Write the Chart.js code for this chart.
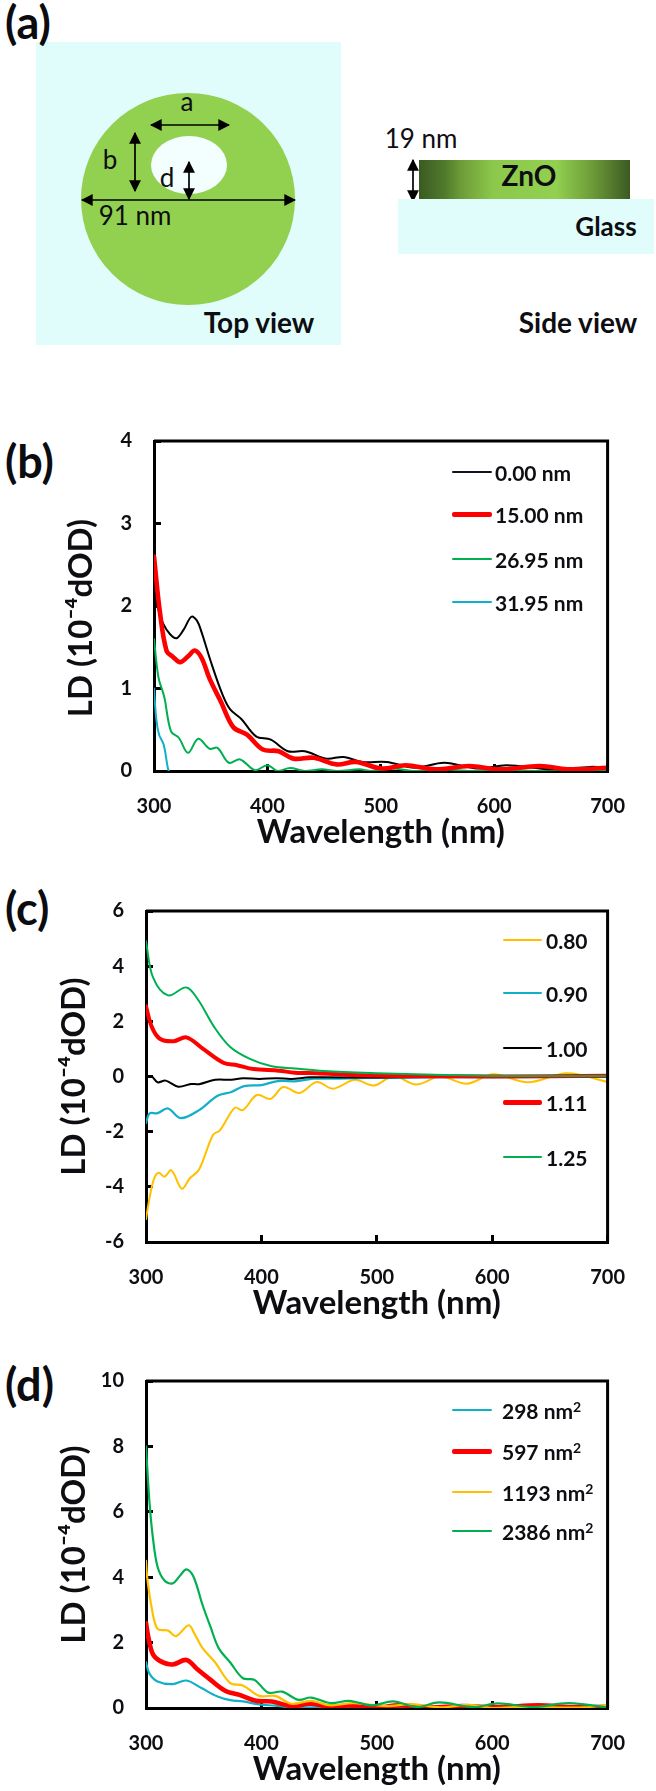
<!DOCTYPE html>
<html>
<head>
<meta charset="utf-8">
<script src="https://cdn.jsdelivr.net/npm/chart.js@4"></script>
<style>
html,body{margin:0;padding:0;background:#fff;width:656px;height:1791px;overflow:hidden;font-family:Lato,sans-serif;color:#0d0d12}
canvas{position:absolute;left:0}
svg{position:absolute;left:0;top:0}
.plabel{position:absolute;left:5px;font:700 45px/1 Lato,sans-serif;color:#0c0c10}
.leg{position:absolute;white-space:nowrap;font:700 21px/1 Lato,sans-serif;transform:translateY(-50%)}
.leg sup{font-size:14px;line-height:0;vertical-align:7px}
.swatch{position:absolute;border-radius:2px}
</style>
</head>
<body>
<svg width="656" height="345" viewBox="0 0 656 345" font-family="Lato,sans-serif" fill="#0d0d12">
  <defs>
    <linearGradient id="zno"><stop offset="0" stop-color="#3b5a22"/><stop offset=".12" stop-color="#4f7a2c"/><stop offset=".2" stop-color="#6d9c38"/><stop offset=".35" stop-color="#8cc84b"/><stop offset=".65" stop-color="#92d050"/><stop offset=".82" stop-color="#6d9c38"/><stop offset="1" stop-color="#3b5a22"/></linearGradient>
    <marker id="ah" viewBox="0 0 10 10" refX="9" refY="5" markerWidth="7" markerHeight="7" orient="auto-start-reverse"><path d="M0 0L10 5L0 10z" fill="#000"/></marker>
  </defs>
  <rect x="36" y="42" width="305" height="303" fill="#e1fdfb"/>
  <ellipse cx="188" cy="199" rx="107" ry="106" fill="#92d050"/>
  <ellipse cx="189" cy="165" rx="38" ry="29" fill="#f3fffe"/>
  <g stroke="#000" stroke-width="1.7">
    <line x1="151" y1="125" x2="229" y2="125" marker-start="url(#ah)" marker-end="url(#ah)"/>
    <line x1="135" y1="133" x2="135" y2="191" marker-start="url(#ah)" marker-end="url(#ah)"/>
    <line x1="189" y1="162" x2="189" y2="199" marker-start="url(#ah)" marker-end="url(#ah)"/>
    <line x1="82" y1="200" x2="295" y2="200" marker-start="url(#ah)" marker-end="url(#ah)"/>
    <line x1="413" y1="160" x2="413" y2="201" marker-start="url(#ah)" marker-end="url(#ah)"/>
  </g>
  <g font-size="26" text-anchor="middle" dominant-baseline="middle">
    <text x="187" y="104">a</text>
    <text x="110" y="162">b</text>
    <text x="167" y="180">d</text>
    <text x="135" y="218">91 nm</text>
    <text x="421" y="141">19 nm</text>
  </g>
  <rect x="398" y="199" width="256" height="55" fill="#e1fdfb"/>
  <rect x="419" y="160" width="211" height="39" fill="url(#zno)"/>
  <g font-weight="700" text-anchor="middle" dominant-baseline="middle">
    <text x="529" y="179" font-size="28">ZnO</text>
    <text x="606" y="229" font-size="26">Glass</text>
    <text x="259" y="326" font-size="28">Top view</text>
    <text x="578" y="326" font-size="28">Side view</text>
  </g>
</svg>
<div class="plabel" style="top:0px">(a)</div>
<div class="plabel" style="top:439px">(b)</div>
<div class="plabel" style="top:886px">(c)</div>
<div class="plabel" style="top:1362px">(d)</div>
<canvas id="cb" width="656" height="470" style="top:400px"></canvas>
<canvas id="cc" width="656" height="470" style="top:870px"></canvas>
<canvas id="cd" width="656" height="451" style="top:1340px"></canvas>
<script>
const xTickLabels=[300,400,500,600,700];
const xAxisTitle="Wavelength (nm)";
const yAxisTitle="LD (10\u207B\u2074dOD)";
const BLACK="#000000",RED="#ff0000",GREEN="#00b050",CYAN="#12afc9",ORANGE="#ffc000";

/* panel b */
const b0Wave=[300,304,308,314,320,326,333,338,342,350,360,367,377,390,403,418,433,452,467,484,505,530,556,585,611,650,685,700];
const b0Vals=[2.15,1.95,1.79,1.66,1.61,1.71,1.87,1.82,1.68,1.33,0.94,0.75,0.63,0.42,0.38,0.24,0.24,0.15,0.17,0.11,0.11,0.04,0.10,0.03,0.07,0.02,0.05,0.04];
const b1Wave=[300,305,311,317,323,330,336,342,349,359,370,382,396,410,423,441,461,478,501,522,548,578,605,640,667,700];
const b1Vals=[2.60,1.95,1.46,1.38,1.32,1.39,1.46,1.37,1.12,0.84,0.53,0.44,0.26,0.24,0.15,0.16,0.08,0.11,0.03,0.07,0.02,0.06,0.02,0.06,0.02,0.04];
const b2Wave=[300,304,309,315,322,330,339,349,356,366,376,389,400,409,420,433,448,462,481,492,510,530,555,580,610,640,665,700];
const b2Vals=[1.60,1.13,0.90,0.48,0.40,0.22,0.39,0.27,0.28,0.10,0.14,0.01,0.07,0.00,0.035,0.00,0.02,0.00,0.02,0.00,0.03,0.00,0.02,0.00,0.01,0.00,0.02,0.00];
const b3Wave=[300,302,304.5,308.5,312,313];
const b3Vals=[1.00,0.63,0.44,0.32,0.05,0.00];
const bLabels=["0.00 nm","15.00 nm","26.95 nm","31.95 nm"];
const bTicks=[0,1,2,3,4];

/* panel c */
const c0Wave=[300,303,307,311,316,322,331,338,346,358,364,377,384,396,408,419,433,448,462,481,497,509,516,534,555,578,601,631,665,700];
const c0Vals=[-5.17,-4.42,-3.70,-3.49,-3.63,-3.40,-4.07,-3.69,-3.37,-2.12,-1.95,-1.13,-1.22,-0.67,-0.81,-0.38,-0.60,-0.20,-0.44,-0.12,-0.33,-0.08,0.02,-0.29,0.00,-0.26,0.08,-0.21,0.12,-0.20];
const c1Wave=[300,303,310,319,330,346,362,374,385,400,414,431,445,462,484,500,550,600,700];
const c1Vals=[-1.69,-1.34,-1.33,-1.16,-1.51,-1.22,-0.70,-0.56,-0.35,-0.31,-0.17,-0.17,-0.08,-0.08,-0.06,-0.05,-0.03,-0.02,0.00];
const c2Wave=[300,305,310,317,328,339,346,360,374,384,398,413,426,442,500,600,700];
const c2Vals=[0.00,0.00,-0.21,-0.15,-0.37,-0.27,-0.28,-0.12,-0.12,-0.06,-0.09,-0.06,-0.09,-0.03,-0.04,0.00,0.00];
const c3Wave=[300,305,312,324,335,348,367,379,393,415,429,448,480,520,600,700];
const c3Vals=[2.55,1.80,1.37,1.28,1.42,1.05,0.50,0.41,0.27,0.21,0.14,0.12,0.05,0.02,0.00,0.03];
const c4Wave=[300,306,319,335,345,359,373,390,409,429,454,500,550,600,700];
const c4Vals=[4.90,3.60,2.94,3.23,2.79,1.80,1.07,0.64,0.37,0.29,0.20,0.12,0.06,0.02,0.02];
const cLabels=["0.80","0.90","1.00","1.11","1.25"];
const cTicks=[-6,-4,-2,0,2,4,6];

/* panel d */
const d0Wave=[300,303,310,323,335,348,362,373,384,398,412,426,460,500,600,700];
const d0Vals=[1.40,1.05,0.81,0.73,0.84,0.61,0.35,0.24,0.20,0.11,0.07,0.02,0.02,0.01,0.01,0.00];
const d1Wave=[300,302,306,312,323,335,344,356,369,381,395,409,426,443,460,476,496,520,545,575,605,640,670,700];
const d1Vals=[2.60,2.17,1.64,1.44,1.33,1.47,1.20,0.86,0.52,0.40,0.22,0.20,0.06,0.13,0.03,0.08,0.00,0.08,0.02,0.06,0.02,0.08,0.02,0.04];
const d2Wave=[300,301,305,310,319,326,337,342,349,360,373,384,398,412,426,443,460,479,496,510,530,555,580,600,620,650,680,700];
const d2Vals=[4.50,4.00,3.05,2.42,2.37,2.20,2.53,2.27,1.83,1.39,0.76,0.69,0.37,0.37,0.13,0.22,0.08,0.15,0.10,0.06,0.12,0.02,0.10,0.00,0.03,0.02,0.02,0.10];
const d3Wave=[300,303,306,310,316,323,330,335,341,349,356,363,373,384,394,406,418,432,443,460,476,496,514,535,554,584,605,636,666,700];
const d3Vals=[8.00,6.30,5.20,4.32,3.90,3.81,4.07,4.24,4.03,3.15,2.47,1.83,1.39,0.91,0.86,0.47,0.50,0.25,0.32,0.15,0.22,0.08,0.20,0.03,0.17,0.03,0.14,0.03,0.15,0.02];
const dLabels=["298 nm<sup>2</sup>","597 nm<sup>2</sup>","1193 nm<sup>2</sup>","2386 nm<sup>2</sup>"];
const dTicks=[0,2,4,6,8,10];

function pairs(xs,ys){return xs.map((x,i)=>({x:x,y:ys[i]}));}
function line(label,xs,ys,color,width,order){
  return {label:label,data:pairs(xs,ys),borderColor:color,backgroundColor:color,borderWidth:width,
    pointRadius:0,tension:0.35,order:order,borderCapStyle:"round",borderJoinStyle:"round"};
}
const framePlugin={id:"frame",afterDraw(chart){
  const a=chart.chartArea,c=chart.ctx;c.save();c.strokeStyle="#000";c.lineWidth=3;
  c.beginPath();c.moveTo(a.left,a.top);c.lineTo(a.right,a.top);c.lineTo(a.right,a.bottom);c.stroke();c.restore();
}};
function make(id,datasets,yMin,yMax,geo){
  const el=document.getElementById(id);
  return new Chart(el,{type:"line",data:{datasets:datasets},plugins:[framePlugin],options:{
    responsive:false,animation:false,devicePixelRatio:1,
    layout:{padding:{top:geo.top,right:32,left:0,bottom:0}},
    plugins:{legend:{display:false},tooltip:{enabled:false}},
    scales:{
      x:{type:"linear",min:300,max:700,afterBuildTicks(s){s.ticks=xTickLabels.map(v=>({value:v}));},
        afterFit(s){s.height=geo.xh;},
        border:{display:true,color:"#000",width:3},
        grid:{drawOnChartArea:false,drawTicks:true,tickLength:-7,tickWidth:3,tickColor:"#000"},
        ticks:{padding:31,maxRotation:0,autoSkip:false,color:"#0d0d12",font:{family:"Lato",size:20,weight:"700"}},
        title:{display:true,text:xAxisTitle,color:"#0d0d12",font:{family:"Lato",size:33,weight:"700"},padding:{top:0,bottom:geo.xpad}}
      },
      y:{type:"linear",min:yMin,max:yMax,afterBuildTicks(s){s.ticks=geo.ticks.map(v=>({value:v}));},
        afterFit(s){s.width=geo.left;},
        border:{display:true,color:"#000",width:3},
        grid:{drawOnChartArea:false,drawTicks:true,tickLength:-7,tickWidth:3,tickColor:"#000"},
        ticks:{padding:29,autoSkip:false,color:"#0d0d12",font:{family:"Lato",size:20,weight:"700"}},
        title:{display:true,text:yAxisTitle+(geo.ysuffix||""),color:"#0d0d12",font:{family:"Lato",size:33,weight:"700"},padding:{top:geo.ypad,bottom:0}}
      }
    }
  }});
}
make("cb",[
  line(bLabels[0],b0Wave,b0Vals,BLACK,2,2),
  line(bLabels[1],b1Wave,b1Vals,RED,4.6,1),
  line(bLabels[2],b2Wave,b2Vals,GREEN,2,3),
  line(bLabels[3],b3Wave,b3Vals,CYAN,2,2.5)
],0,4,{top:27,xh:99,xpad:18,left:154,ypad:62,ticks:bTicks,ysuffix:"   "});
make("cc",[
  line(cLabels[0],c0Wave,c0Vals,ORANGE,2,5),
  line(cLabels[1],c1Wave,c1Vals,CYAN,2.2,4),
  line(cLabels[2],c2Wave,c2Vals,BLACK,2,3),
  line(cLabels[3],c3Wave,c3Vals,RED,4,2),
  line(cLabels[4],c4Wave,c4Vals,GREEN,2,1)
],-6,6,{top:28,xh:98,xpad:17,left:146,ypad:55,ticks:cTicks});
make("cd",[
  line(dLabels[0],d0Wave,d0Vals,CYAN,2.2,4),
  line(dLabels[1],d1Wave,d1Vals,RED,4.6,3),
  line(dLabels[2],d2Wave,d2Vals,ORANGE,2.2,2),
  line(dLabels[3],d3Wave,d3Vals,GREEN,2.2,1)
],0,10,{top:26,xh:83,xpad:2,left:146,ypad:55,ticks:dTicks});

/* legends: real text, one swatch per series */
function legend(labels,colors,widths,ys,x0,x1,tx){
  labels.forEach((t,i)=>{
    const s=document.createElement("div");s.className="swatch";
    s.style.cssText=`left:${x0}px;width:${x1-x0}px;top:${ys[i]-widths[i]/2}px;height:${widths[i]}px;background:${colors[i]}`;
    document.body.appendChild(s);
    const d=document.createElement("div");d.className="leg";d.innerHTML=t;
    d.style.left=tx+"px";d.style.top=ys[i]+"px";document.body.appendChild(d);
  });
}
legend(bLabels,["#12121c",RED,GREEN,CYAN],[2.5,5,2.5,2.5],[472,514,559,602],452,492,495);
legend(cLabels,[ORANGE,CYAN,BLACK,RED,GREEN],[2.5,2.5,2.5,5,2.5],[940,993,1048,1102,1157],503,542,546);
legend(dLabels,[CYAN,RED,ORANGE,GREEN],[2.5,5,2.5,2.5],[1410,1451,1492,1531],452,492,502);
</script>
</body>
</html>
